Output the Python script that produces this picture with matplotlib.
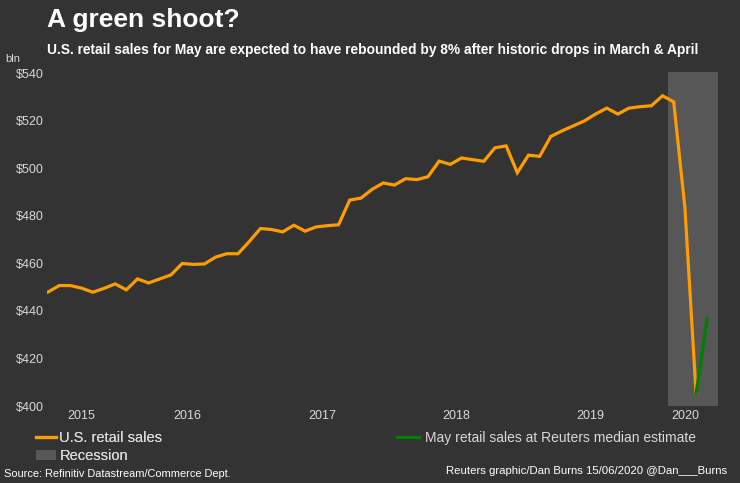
import matplotlib
matplotlib.use("Agg")
import matplotlib.pyplot as plt
import pandas as pd

# monthly U.S. retail sales, $bln
start_month = "2015-06"
sales = [
    448.0, 450.7, 450.7, 449.6, 447.9, 449.5, 451.4,
    448.9, 453.5, 451.8, 453.5, 455.2, 460.0, 459.6, 459.8, 462.7, 464.1, 464.1, 469.2,
    474.7, 474.3, 473.3, 476.1, 473.6, 475.4, 475.9, 476.3, 486.7, 487.5, 491.2, 493.9,
    493.0, 495.7, 495.3, 496.5, 503.1, 501.7, 504.4, 503.7, 503.0, 508.7, 509.5, 498.2,
    505.6, 505.1, 513.5, 515.8, 517.9, 520.0, 522.9, 525.4, 522.9, 525.4, 526.0, 526.4,
    530.6, 528.0, 483.5, 405.3,
]
estimate_months = ["2020-04", "2020-05"]
estimate = [405.3, 436.7]
recession = ("2020-02", "2020-06")

yticks = [400, 420, 440, 460, 480, 500, 520, 540]

BG = "#333333"
ORANGE = "#FF9C00"
GREEN = "#008000"
GREY = "#575757"
TXT = "#D9D9D9"

plt.rcParams["font.family"] = ["Liberation Sans", "DejaVu Sans"]

months = pd.period_range(start_month, periods=len(sales), freq="M")
idx = {str(p): i for i, p in enumerate(months)}
idx["2020-05"] = len(sales)
idx["2020-06"] = len(sales) + 1

fig = plt.figure(figsize=(7.4, 4.83), dpi=100, facecolor=BG)
ax = fig.add_axes([47 / 740, 77 / 483, 677 / 740, 334 / 483])
ax.set_facecolor(BG)

rec = ax.axvspan(idx[recession[0]] - 0.5, idx[recession[1]], color=GREY, lw=0, zorder=1)
l1, = ax.plot(range(len(sales)), sales, color=ORANGE, lw=2.3, zorder=3,
              solid_joinstyle="miter")
l2, = ax.plot([idx[m] for m in estimate_months], estimate, color=GREEN, lw=2.3, zorder=4)

ax.set_xlim(-0.1, 60.5)
ax.set_ylim(400, 540.6)
ax.set_yticks(yticks)
ax.set_yticklabels([f"${v}" for v in yticks])

# year labels centred under each year's months
all_months = list(months) + [pd.Period("2020-05", freq="M")]
years = sorted(set(p.year for p in all_months))
pos = []
for y in years:
    ii = [i for i, p in enumerate(all_months) if p.year == y]
    pos.append((ii[0] + ii[-1]) / 2)
ax.set_xticks(pos)
ax.set_xticklabels([str(y) for y in years])

ax.tick_params(axis="both", length=0, colors=TXT, labelsize=9)
ax.tick_params(axis="y", pad=2)
ax.tick_params(axis="x", pad=3)
for s in ax.spines.values():
    s.set_visible(False)

fig.text(47 / 740, 1 - 8 / 483, "A green shoot?", color="white", fontsize=19,
         fontweight="bold", va="top", ha="left")
fig.text(47 / 740, 1 - 50 / 483,
         "U.S. retail sales for May are expected to have rebounded by 8% after historic drops in March & April",
         color="white", fontsize=9.9, fontweight="bold", va="center", ha="left")
fig.text(5 / 740, 1 - 59 / 483, "bln", color=TXT, fontsize=8, va="center", ha="left")

leg1 = fig.legend([l1, rec], ["U.S. retail sales", "Recession"], loc="upper left",
                  bbox_to_anchor=(36 / 740, 1 - 431 / 483), frameon=False,
                  prop={"size": 10.5}, labelcolor=TXT, borderaxespad=0,
                  handlelength=1.4, handletextpad=0.2, borderpad=0, labelspacing=0.3)
fig.legend([l2], ["May retail sales at Reuters median estimate"], loc="upper left",
           bbox_to_anchor=(397 / 740, 1 - 431 / 483), frameon=False,
           prop={"size": 10}, labelcolor=TXT, borderaxespad=0,
           handlelength=1.6, handletextpad=0.4, borderpad=0)
fig.add_artist(leg1)

fig.text(4 / 740, 1 - 474 / 483, "Source: Refinitiv Datastream/Commerce Dept.", color="white",
         fontsize=7.9, va="center", ha="left")
fig.text(727 / 740, 1 - 471 / 483, "Reuters graphic/Dan Burns 15/06/2020 @Dan___Burns",
         color="white", fontsize=8.2, va="center", ha="right")

fig.savefig("out.png", dpi=100, facecolor=BG)
